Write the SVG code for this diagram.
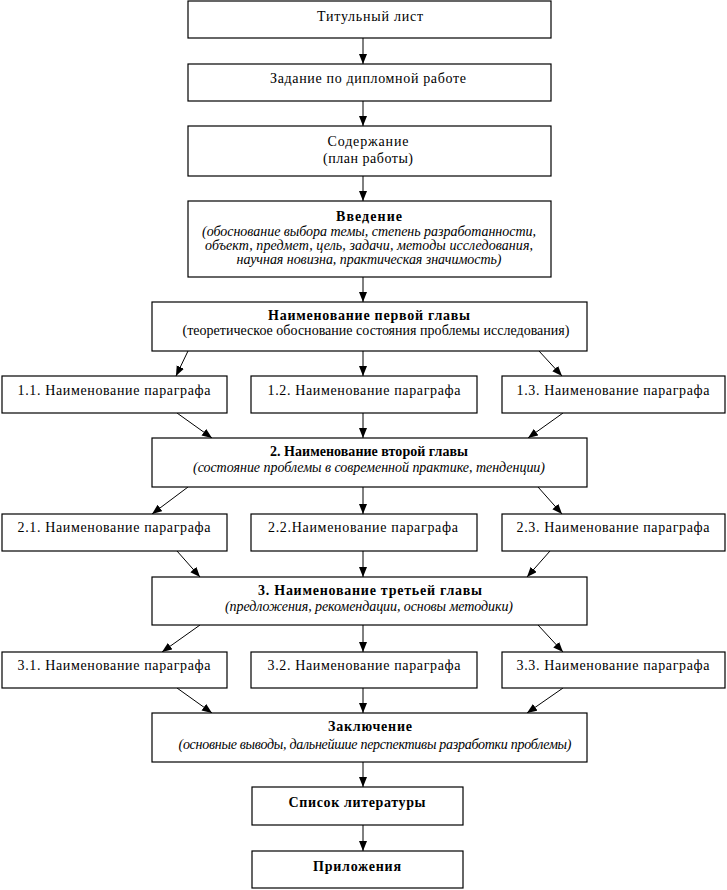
<svg xmlns="http://www.w3.org/2000/svg" width="727" height="890" viewBox="0 0 727 890">
<style>
rect{fill:#fff;stroke:#000;stroke-width:1.2}
text{font-family:"Liberation Serif","Times New Roman",serif;font-size:14px;fill:#000}
.b{font-weight:bold}
.i{font-style:italic}
.c{stroke:#000;stroke-width:1;fill:none;marker-end:url(#ah)}
</style>
<defs>
<marker id="ah" markerUnits="userSpaceOnUse" markerWidth="11" markerHeight="9" refX="10" refY="4" orient="auto">
<path d="M0,0 L10,4 L0,8 z" fill="#000"/>
</marker>
</defs>
<rect x="0" y="0" width="727" height="890" style="stroke:none"/>
<g id="connectors">
<line class="c" x1="363" y1="38" x2="363" y2="64"/>
<line class="c" x1="363" y1="101" x2="363" y2="126"/>
<line class="c" x1="363" y1="176" x2="363" y2="201"/>
<line class="c" x1="363" y1="277" x2="363" y2="302"/>
<line class="c" x1="363" y1="351" x2="363" y2="376"/>
<line class="c" x1="363" y1="413" x2="363" y2="438"/>
<line class="c" x1="363" y1="487" x2="363" y2="514"/>
<line class="c" x1="363" y1="551" x2="363" y2="577"/>
<line class="c" x1="363" y1="625" x2="363" y2="652"/>
<line class="c" x1="363" y1="688" x2="363" y2="713"/>
<line class="c" x1="363" y1="762" x2="363" y2="787"/>
<line class="c" x1="363" y1="825" x2="363" y2="851"/>
<line class="c" x1="188" y1="351" x2="176" y2="376"/>
<line class="c" x1="539" y1="351" x2="562" y2="376"/>
<line class="c" x1="177" y1="413" x2="212" y2="438"/>
<line class="c" x1="563" y1="413" x2="528" y2="438"/>
<line class="c" x1="188" y1="487" x2="152" y2="514"/>
<line class="c" x1="538" y1="487" x2="562" y2="514"/>
<line class="c" x1="177" y1="551" x2="200" y2="577"/>
<line class="c" x1="550" y1="551" x2="527" y2="577"/>
<line class="c" x1="200" y1="625" x2="162" y2="652"/>
<line class="c" x1="538" y1="625" x2="563" y2="652"/>
<line class="c" x1="177" y1="688" x2="212" y2="713"/>
<line class="c" x1="563" y1="688" x2="527" y2="713"/>
</g>
<g id="title">
<rect x="188" y="1" width="363" height="37"/>
<text x="370" y="21" text-anchor="middle" textLength="106">Титульный лист</text>
</g>
<g id="task">
<rect x="188" y="64" width="363" height="37"/>
<text x="368" y="83" text-anchor="middle" textLength="196">Задание по дипломной работе</text>
</g>
<g id="contents">
<rect x="188" y="126" width="363" height="50"/>
<text x="368" y="146" text-anchor="middle" textLength="81">Содержание</text>
<text x="368" y="163" text-anchor="middle" textLength="90">(план работы)</text>
</g>
<g id="intro">
<rect x="188" y="201" width="363" height="76"/>
<text class="b" x="369" y="221" text-anchor="middle" textLength="66">Введение</text>
<text class="i" x="369" y="236" text-anchor="middle" textLength="334">(обоснование выбора темы, степень разработанности,</text>
<text class="i" x="369" y="250" text-anchor="middle" textLength="328">объект, предмет, цель, задачи, методы исследования,</text>
<text class="i" x="369" y="264" text-anchor="middle" textLength="265">научная новизна, практическая значимость)</text>
</g>
<g id="ch1">
<rect x="152" y="302" width="435" height="49"/>
<text class="b" x="369" y="320" text-anchor="middle" textLength="202">Наименование первой главы</text>
<text x="376" y="335" text-anchor="middle" textLength="387">(теоретическое обоснование состояния проблемы исследования)</text>
</g>
<g id="p11">
<rect x="2" y="376" width="225" height="37"/>
<text x="114" y="395" text-anchor="middle" textLength="193">1.1. Наименование параграфа</text>
</g>
<g id="p12">
<rect x="251" y="376" width="226" height="37"/>
<text x="364" y="395" text-anchor="middle" textLength="193">1.2. Наименование параграфа</text>
</g>
<g id="p13">
<rect x="502" y="376" width="223" height="37"/>
<text x="613" y="395" text-anchor="middle" textLength="193">1.3. Наименование параграфа</text>
</g>
<g id="ch2">
<rect x="152" y="438" width="435" height="49"/>
<text class="b" x="369" y="456" text-anchor="middle" textLength="198">2. Наименование второй главы</text>
<text class="i" x="369" y="472" text-anchor="middle" textLength="352">(состояние проблемы в современной практике, тенденции)</text>
</g>
<g id="p21">
<rect x="2" y="514" width="225" height="37"/>
<text x="114" y="532" text-anchor="middle" textLength="193">2.1. Наименование параграфа</text>
</g>
<g id="p22">
<rect x="251" y="514" width="226" height="37"/>
<text x="363" y="532" text-anchor="middle" textLength="190">2.2.Наименование параграфа</text>
</g>
<g id="p23">
<rect x="502" y="514" width="223" height="37"/>
<text x="613" y="532" text-anchor="middle" textLength="193">2.3. Наименование параграфа</text>
</g>
<g id="ch3">
<rect x="152" y="577" width="435" height="48"/>
<text class="b" x="370" y="595" text-anchor="middle" textLength="224">3. Наименование третьей главы</text>
<text class="i" x="369" y="611" text-anchor="middle" textLength="288">(предложения, рекомендации, основы методики)</text>
</g>
<g id="p31">
<rect x="2" y="652" width="225" height="36"/>
<text x="114" y="670" text-anchor="middle" textLength="193">3.1. Наименование параграфа</text>
</g>
<g id="p32">
<rect x="251" y="652" width="226" height="36"/>
<text x="364" y="670" text-anchor="middle" textLength="193">3.2. Наименование параграфа</text>
</g>
<g id="p33">
<rect x="502" y="652" width="223" height="36"/>
<text x="613" y="670" text-anchor="middle" textLength="193">3.3. Наименование параграфа</text>
</g>
<g id="conclusion">
<rect x="152" y="713" width="435" height="49"/>
<text class="b" x="370" y="731" text-anchor="middle" textLength="84">Заключение</text>
<text class="i" x="375" y="749" text-anchor="middle" textLength="393">(основные выводы, дальнейшие перспективы разработки проблемы)</text>
</g>
<g id="references">
<rect x="252" y="787" width="211" height="38"/>
<text class="b" x="357" y="807" text-anchor="middle" textLength="137">Список литературы</text>
</g>
<g id="appendix">
<rect x="252" y="851" width="211" height="37"/>
<text class="b" x="357" y="871" text-anchor="middle" textLength="88">Приложения</text>
</g>
</svg>
